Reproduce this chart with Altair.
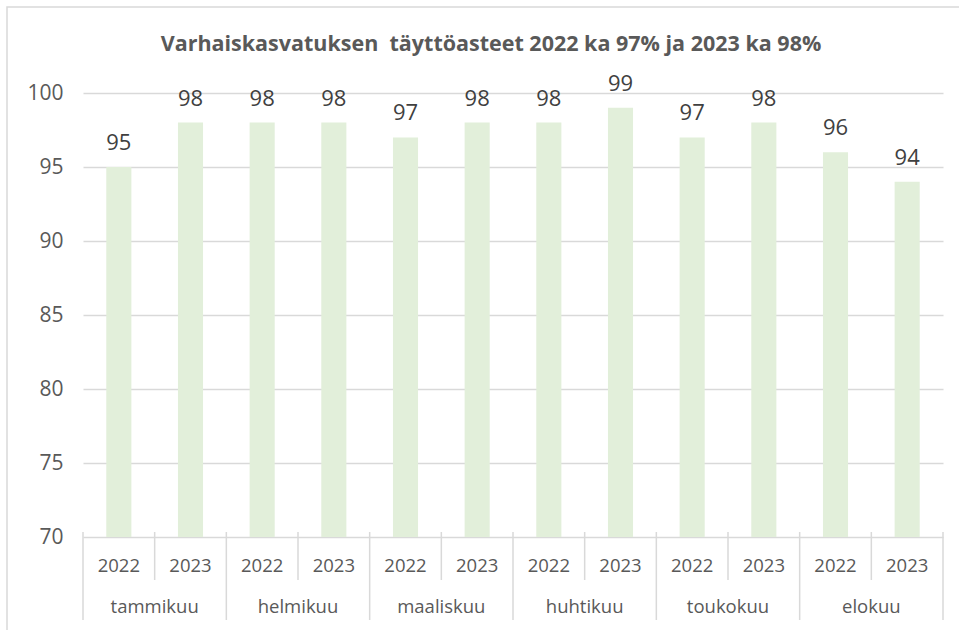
import altair as alt
import pandas as pd

months = ["tammikuu", "helmikuu", "maaliskuu", "huhtikuu", "toukokuu", "elokuu"]
years = ["2022", "2023"]
values_2022 = [95, 98, 97, 98, 97, 96]
values_2023 = [98, 98, 98, 99, 98, 94]
y_ticks = [70, 75, 80, 85, 90, 95, 100]
title_text = "Varhaiskasvatuksen\u00a0 täyttöasteet 2022 ka 97% ja 2023 ka 98%"

rows = []
for m, v22, v23 in zip(months, values_2022, values_2023):
    rows.append({"month": m, "year": "2022", "value": v22})
    rows.append({"month": m, "year": "2023", "value": v23})
df = pd.DataFrame(rows)
mdf = pd.DataFrame({"month": months})
last_df = pd.DataFrame({"month": [months[-1]]})

W, H = 860, 444
FONT = "Open Sans"
GRAY = "#595959"
LINE = "#d9d9d9"

xscale = alt.Scale(domain=months, paddingInner=0, paddingOuter=0)
xoff_scale = alt.Scale(domain=years, paddingInner=0.65, paddingOuter=0.325)
yscale = alt.Scale(domain=[70, 100], nice=False, zero=False)

border = alt.Chart(mdf.head(1)).mark_rect(filled=False, stroke=LINE, strokeWidth=1.5).encode(
    x=alt.value(-76), x2=alt.value(W + 60), y=alt.value(-86), y2=alt.value(H + 200)
)

title = alt.Chart(mdf.head(1)).mark_text(
    text=title_text, fontSize=21.5, fontWeight="bold", font=FONT, color=GRAY,
    align="center", baseline="alphabetic",
).encode(x=alt.value(408), y=alt.value(-42))

bars = alt.Chart(df).mark_bar(color="#e2efda").encode(
    x=alt.X("month:N", scale=xscale, sort=months, axis=None),
    xOffset=alt.XOffset("year:N", scale=xoff_scale, sort=years),
    y=alt.Y("value:Q", scale=yscale,
            axis=alt.Axis(values=y_ticks, grid=True, gridColor=LINE, gridWidth=1.3,
                          domain=False, ticks=False, labelFontSize=21, labelFont=FONT,
                          labelColor=GRAY, labelPadding=20, title=None)),
    y2=alt.datum(70),
)

labels = alt.Chart(df).mark_text(baseline="alphabetic", dy=-17, fontSize=22, font=FONT, color="#404040").encode(
    x=alt.X("month:N", scale=xscale, sort=months, axis=None),
    xOffset=alt.XOffset("year:N", scale=xoff_scale, sort=years),
    y=alt.Y("value:Q", scale=yscale),
    text=alt.Text("value:Q"),
)

year_labels = alt.Chart(df).mark_text(baseline="middle", fontSize=18.5, font=FONT, color=GRAY).encode(
    x=alt.X("month:N", scale=xscale, sort=months, axis=None),
    xOffset=alt.XOffset("year:N", scale=xoff_scale, sort=years),
    y=alt.value(H + 29),
    text="year:N",
)

month_labels = alt.Chart(mdf).mark_text(baseline="middle", fontSize=18.5, font=FONT, color=GRAY).encode(
    x=alt.X("month:N", scale=xscale, sort=months, axis=None),
    y=alt.value(H + 70),
    text="month:N",
)

month_sep = alt.Chart(mdf).mark_rule(color=LINE, strokeWidth=1.5).encode(
    x=alt.X("month:N", scale=xscale, sort=months, axis=None, bandPosition=0),
    y=alt.value(H - 5), y2=alt.value(H + 83),
)
last_sep = alt.Chart(last_df).mark_rule(color=LINE, strokeWidth=1.5).encode(
    x=alt.X("month:N", scale=xscale, sort=months, axis=None, bandPosition=1),
    y=alt.value(H - 5), y2=alt.value(H + 83),
)
year_sep = alt.Chart(mdf).mark_rule(color=LINE, strokeWidth=1.5).encode(
    x=alt.X("month:N", scale=xscale, sort=months, axis=None, bandPosition=0.5),
    y=alt.value(H - 5), y2=alt.value(H + 43),
)

chart = alt.layer(border, title, bars, labels, year_labels, month_labels, month_sep, last_sep, year_sep).properties(
    width=W, height=H,
    autosize=alt.AutoSizeParams(type="none"),
    padding={"left": 83, "top": 93, "right": 16, "bottom": 93},
).configure_view(stroke=None)

chart.save("out.html", embed_options={"renderer": "svg", "actions": False})
